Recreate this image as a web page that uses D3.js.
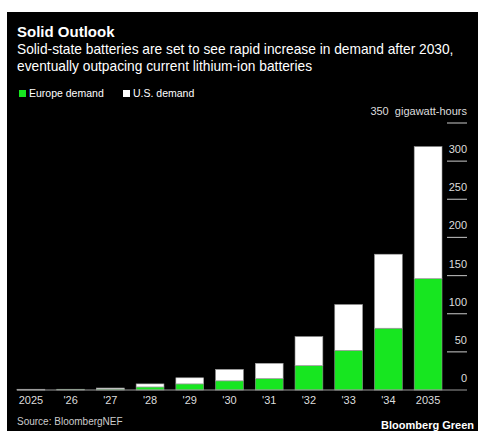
<!DOCTYPE html>
<html>
<head>
<meta charset="utf-8">
<script src="https://cdn.jsdelivr.net/npm/d3@7"></script>
<style>
  body { margin: 0; background: #fff; }
  text { font-family: "Liberation Sans", Arial, sans-serif; }
</style>
</head>
<body>
<svg id="chart" width="478" height="431"></svg>
<script>
// chart data
const years = ["2025", "'26", "'27", "'28", "'29", "'30", "'31", "'32", "'33", "'34", "2035"];
const europeDemand = [0.1, 1, 1.3, 4, 8, 12, 15, 32, 52, 81, 146];
const usDemand = [0.9, 0, 1.3, 4, 8, 15, 20, 38, 60, 97, 173];
const yTicks = [0, 50, 100, 150, 200, 250, 300, 350];

const GREEN = "#17e620";

let svg = d3.select("#chart");

svg.append("rect")
  .attr("x", 7).attr("y", 12)
  .attr("width", 471).attr("height", 419)
  .attr("fill", "#000");

// titles
svg.append("text")
  .text("Solid Outlook")
  .attr("x", 17).attr("y", 37)
  .attr("fill", "#fff")
  .style("font-size", "15px")
  .style("font-weight", "bold");

let subtitle = ["Solid-state batteries are set to see rapid increase in demand after 2030,",
  "eventually outpacing current lithium-ion batteries"];
subtitle.forEach(function(line, i) {
  svg.append("text")
    .text(line)
    .attr("x", 17).attr("y", 54 + i * 17)
    .attr("fill", "#fff")
    .style("font-size", "13.75px");
});

// legend
let legend = [{ name: "Europe demand", color: GREEN, x: 19 }, { name: "U.S. demand", color: "#fff", x: 123 }];
legend.forEach(function(d) {
  svg.append("rect")
    .attr("x", d.x).attr("y", 90)
    .attr("width", 7).attr("height", 7)
    .attr("fill", d.color);
  svg.append("text")
    .text(d.name)
    .attr("x", d.x + 10).attr("y", 97)
    .attr("fill", "#fff")
    .style("font-size", "10.5px");
});

// scales
let x = d3.scaleBand()
  .domain(years)
  .range([17, 442])
  .paddingInner(0.3)
  .paddingOuter(0);

let y = d3.scaleLinear()
  .domain([0, 350])
  .range([390, 123]);

// y axis on the right: short rules with labels sitting above them
let yAxis = svg.append("g");
yTicks.forEach(function(t) {
  if (t > 0) {
    yAxis.append("line")
      .attr("x1", 447).attr("x2", 467)
      .attr("y1", y(t)).attr("y2", y(t))
      .attr("stroke", "#aaa")
      .attr("stroke-width", 1.2);
  }
  yAxis.append("text")
    .text(t === 350 ? "350  gigawatt-hours" : t)
    .attr("x", 467).attr("y", y(t) - 8)
    .attr("text-anchor", "end")
    .attr("fill", "#ddd")
    .style("font-size", "11px")
    .style("white-space", "pre");
});

// stacked bars
let rows = years.map(function(yr, i) {
  return { year: yr, europe: europeDemand[i], us: usDemand[i] };
});
let stacked = d3.stack().keys(["europe", "us"])(rows);
let colors = { europe: GREEN, us: "#fff" };

stacked.forEach(function(layer) {
  svg.append("g")
    .selectAll("rect")
    .data(layer)
    .enter()
    .append("rect")
    .attr("x", function(d) { return x(d.data.year); })
    .attr("y", function(d) { return y(d[1]); })
    .attr("width", x.bandwidth())
    .attr("height", function(d) { return y(d[0]) - y(d[1]); })
    .attr("fill", colors[layer.key])
    .attr("stroke", "#999")
    .attr("stroke-width", 0.6);
});

// baseline + x labels
svg.append("line")
  .attr("x1", 17).attr("x2", 467)
  .attr("y1", y(0)).attr("y2", y(0))
  .attr("stroke", "#999")
  .attr("stroke-width", 1.2);

svg.append("g")
  .selectAll("text")
  .data(years)
  .enter()
  .append("text")
  .text(function(d) { return d; })
  .attr("x", function(d) { return x(d) + x.bandwidth() / 2; })
  .attr("y", 404)
  .attr("text-anchor", "middle")
  .attr("fill", "#ddd")
  .style("font-size", "11px");

// footer
svg.append("text")
  .text("Source: BloombergNEF")
  .attr("x", 17).attr("y", 425)
  .attr("fill", "#ccc")
  .style("font-size", "10px");

svg.append("text")
  .text("Bloomberg Green")
  .attr("x", 474).attr("y", 429)
  .attr("text-anchor", "end")
  .attr("fill", "#fff")
  .style("font-size", "11px")
  .style("font-weight", "bold");
</script>
</body>
</html>
